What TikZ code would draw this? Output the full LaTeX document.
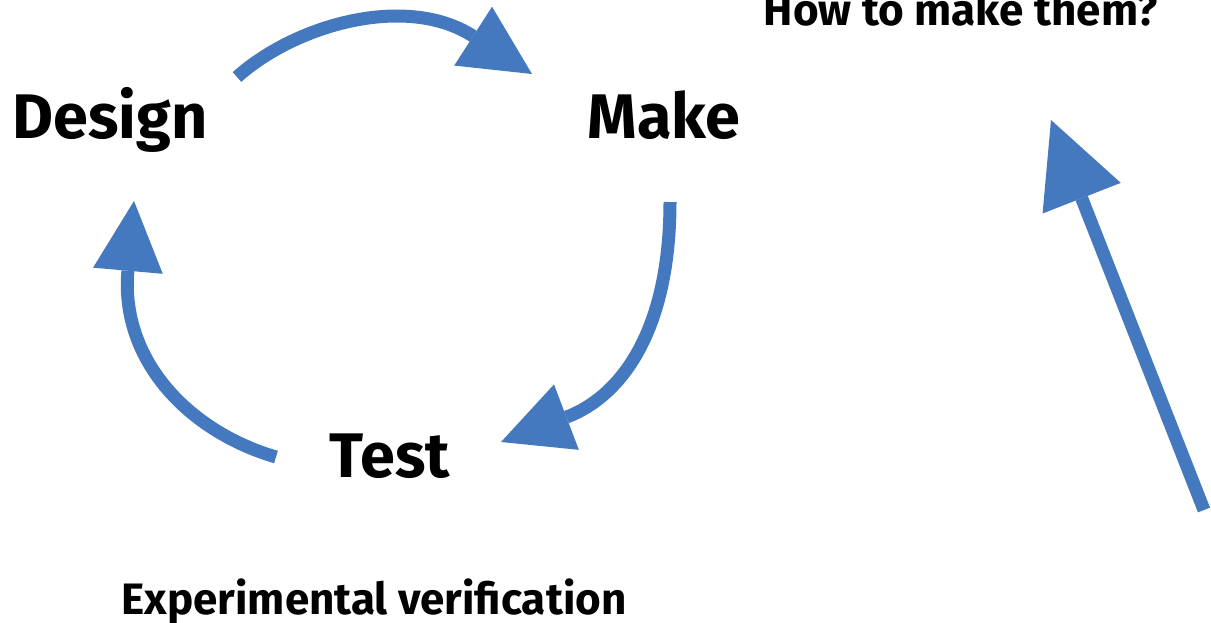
\documentclass[tikz,border=0pt]{standalone}
\usepackage{fontspec}
\setmainfont{Fira Sans}
\usetikzlibrary{arrows.meta}
\definecolor{cycleblue}{RGB}{68,121,191}

\begin{document}
\begin{tikzpicture}[x=1pt,y=-1pt,
        stagelabel/.style={font=\fontsize{63}{70}\selectfont\bfseries, inner sep=0pt, anchor=base},
        notelabel/.style={font=\fontsize{44}{50}\selectfont\bfseries, inner sep=0pt, anchor=base},
        cyclearrow/.style={draw=cycleblue, line width=13pt, -{Triangle[length=70pt,width=70pt,line width=0pt]}}]
        \useasboundingbox (0,0) rectangle (1211,622);
        \node[stagelabel] (design) at (110,138) {Design};
        \node[stagelabel] (make) at (664,138) {Make};
        \node[stagelabel] (test) at (390,477) {Test};
        \node[notelabel] (verify) at (374,614) {Experimental verification};
        \node[notelabel] (howto) at (961,25) {How to make them?};
        \coordinate (dmtail) at (237,77);
        \coordinate (dmtip) at (532,74);
        \coordinate (mttail) at (670,202);
        \coordinate (mttip) at (501,442);
        \coordinate (tdtail) at (276,457);
        \coordinate (tdtip) at (134,201);
        \coordinate (uptail) at (1204,510);
        \coordinate (uptip) at (1051,120);
        \draw[cyclearrow] (dmtail) .. controls (295,25) and (406,-7) .. (dmtip);
        \draw[cyclearrow] (mttail) .. controls (670,330) and (622,396) .. (mttip);
        \draw[cyclearrow] (tdtail) .. controls (190,432) and (120,361) .. (tdtip);
        \draw[cyclearrow, -{Triangle[length=84pt,width=84pt,line width=0pt]}] (uptail) -- (uptip);
    \end{tikzpicture}
\end{document}
